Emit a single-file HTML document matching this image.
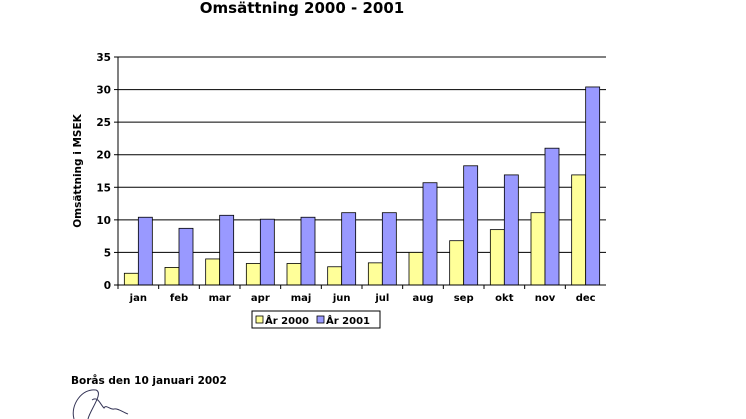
<!DOCTYPE html>
<html><head><meta charset="utf-8"><style>
body{margin:0;background:#fff;width:746px;height:419px;overflow:hidden;font-family:"Liberation Sans","DejaVu Sans",sans-serif}
</style></head><body>
<svg width="746" height="419" style="position:absolute;left:0;top:0">
<text x="302" y="13" text-anchor="middle" font-family="DejaVu Sans, sans-serif" font-weight="bold" font-size="15">Omsättning 2000 - 2001</text>
<g id="grid"></g>
<g id="bars"></g>
<g id="axes"></g>
<text transform="translate(81,171) rotate(-90)" text-anchor="middle" font-family="DejaVu Sans, sans-serif" font-weight="bold" font-size="10.5">Omsättning i MSEK</text>
<g>
<rect x="252" y="311" width="128" height="17" fill="#fff" stroke="#000" stroke-width="1"/>
<rect x="256" y="316" width="7" height="7" fill="#ffff99" stroke="#000" stroke-width="0.8"/>
<text x="265" y="324" font-family="DejaVu Sans, sans-serif" font-weight="bold" font-size="10">År 2000</text>
<rect x="317" y="316" width="7" height="7" fill="#9999ff" stroke="#000" stroke-width="0.8"/>
<text x="326" y="324" font-family="DejaVu Sans, sans-serif" font-weight="bold" font-size="10">År 2001</text>
</g>
<text x="71" y="384" font-family="DejaVu Sans, sans-serif" font-weight="bold" font-size="10.5">Borås den 10 januari 2002</text>
<path d="M74,419 C70,405 82,388 96,390 C104,393 90,410 88,419 M92,400 C98,396 100,404 104,408 C106,404 110,410 114,409 C118,408 122,412 128,414" fill="none" stroke="#335" stroke-width="1"/>
</svg>
<script>
const categories=["jan","feb","mar","apr","maj","jun","jul","aug","sep","okt","nov","dec"];
const series2000=[1.8,2.7,4.0,3.3,3.3,2.8,3.4,5.0,6.8,8.5,11.1,16.9];
const series2001=[10.4,8.7,10.7,10.1,10.4,11.1,11.1,15.7,18.3,16.9,21.0,30.4];
const yTicks=[0,5,10,15,20,25,30,35];
const NS="http://www.w3.org/2000/svg";
const L=118,R=606,T=57,B=285,YMAX=35;
const bw=(R-L)/categories.length;
function y(v){return B-(v/YMAX)*(B-T);}
function x(i){return L+i*bw;}
function mk(t,a,p){const e=document.createElementNS(NS,t);for(const k in a)e.setAttribute(k,a[k]);p.appendChild(e);return e;}
const grid=document.getElementById('grid'),bars=document.getElementById('bars'),axes=document.getElementById('axes');
yTicks.forEach(v=>{
 if(v>0){const g=mk('line',{x1:L,x2:R,y1:y(v),y2:y(v),stroke:'#000','stroke-width':1},grid);
 
 }
 const tk=mk('line',{x1:L-4,x2:L,y1:y(v),y2:y(v),stroke:'#000'},axes);
 
 
 const t=mk('text',{x:L-7,y:y(v)+4,'text-anchor':'end','font-family':'DejaVu Sans, sans-serif','font-weight':'bold','font-size':10.5},axes);
 t.textContent=v;
 
 
});
categories.forEach((c,i)=>{
 const cx=x(i)+bw/2;
 const a=mk('rect',{x:cx-14,y:y(series2000[i]),width:14,height:B-y(series2000[i]),fill:'#ffff99',stroke:'#000','stroke-width':0.8},bars);
 
 
 const b=mk('rect',{x:cx,y:y(series2001[i]),width:14,height:B-y(series2001[i]),fill:'#9999ff',stroke:'#000','stroke-width':0.8},bars);
 
 
 const tk=mk('line',{x1:x(i),x2:x(i),y1:B,y2:B+4,stroke:'#000'},axes);
 
 
 const t=mk('text',{x:cx,y:B+16,'text-anchor':'middle','font-family':'DejaVu Sans, sans-serif','font-weight':'bold','font-size':10},axes);
 t.textContent=c;
 
 
});
const ya=mk('line',{x1:L,x2:L,y1:T,y2:B,stroke:'#000'},axes);


const xa=mk('line',{x1:L,x2:R,y1:B,y2:B,stroke:'#000'},axes);


</script>
</body></html>
